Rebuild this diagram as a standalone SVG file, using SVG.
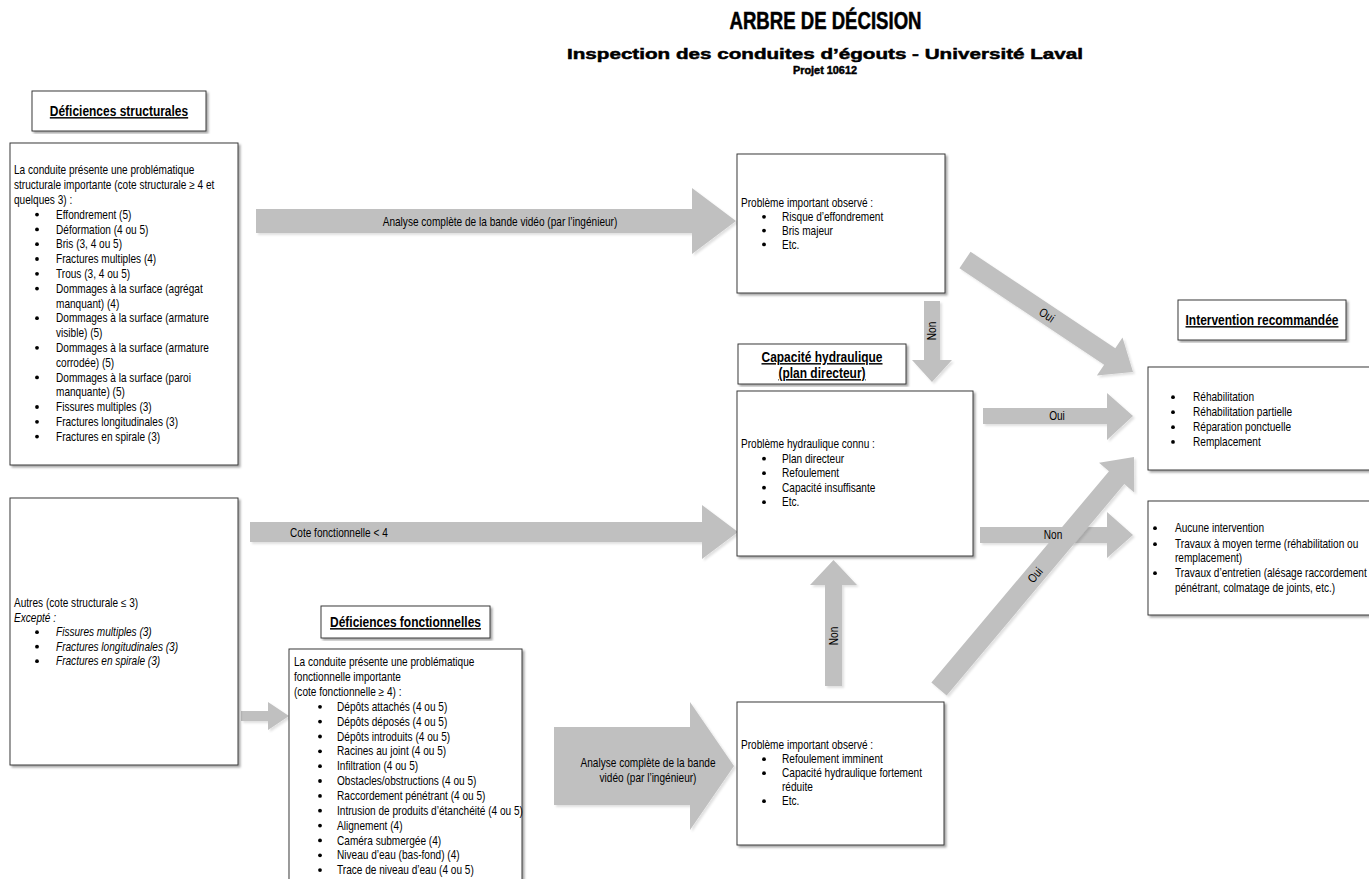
<svg xmlns="http://www.w3.org/2000/svg" width="1369" height="879" viewBox="0 0 1369 879">
<defs>
<filter id="bsh" x="-5%" y="-5%" width="112%" height="112%"><feDropShadow dx="2" dy="2" stdDeviation="0.8" flood-color="#000" flood-opacity="0.35"/></filter>
<filter id="ash" x="-5%" y="-5%" width="115%" height="115%"><feDropShadow dx="2" dy="2" stdDeviation="1" flood-color="#000" flood-opacity="0.12"/></filter>
</defs>
<style>
.t{font-family:'Liberation Sans',Arial,sans-serif;font-size:12.3px;fill:#000}
.it{font-style:italic}
.m{text-anchor:middle}
.h{font-family:'Liberation Sans',Arial,sans-serif;font-weight:bold;font-size:14.6px;text-decoration:underline;fill:#000;text-anchor:middle}
.ti{font-family:'Liberation Sans',Arial,sans-serif;font-weight:bold;fill:#000;stroke:#000;stroke-width:0.5;text-anchor:middle}
.box{fill:#fff;stroke:#3a3a3a;stroke-width:1;filter:url(#bsh)}
.arr{fill:#c0c0c0;filter:url(#ash)}
.bu{fill:#000}
</style>
<rect width="1369" height="879" fill="#fff"/>
<g id="title">
<text class="ti" x="825.5" y="29" font-size="23" textLength="192" lengthAdjust="spacingAndGlyphs">ARBRE DE DÉCISION</text>
<text class="ti" x="825" y="58.5" font-size="15.5" textLength="516" lengthAdjust="spacingAndGlyphs" stroke-width="0.3">Inspection des conduites d’égouts - Université Laval</text>
<text class="ti" x="825" y="74" font-size="11" textLength="64" lengthAdjust="spacingAndGlyphs" stroke-width="0.2">Projet 10612</text>
</g>
<g id="connectors">
<polygon class="arr" points="256,209 692,209 692,188 736,221 692,254 692,233 256,233"/>
<polygon class="arr" points="250,522 702,522 702,505 738,532 702,559 702,542 250,542"/>
<polygon class="arr" points="241,711 268,711 268,702 289,716 268,730 268,721 241,721"/>
<polygon class="arr" points="554,727 690,727 690,702 734,766 690,830 690,805 554,805"/>
<polygon class="arr" points="924,301 940,301 940,360 952,360 932,382 912,360 924,360"/>
<polygon class="arr" points="970.55,251.68 1115.25,348.18 1122.5,337.4 1133,372 1096.9,375.6 1104.15,364.82 959.45,268.32"/>
<polygon class="arr" points="983,408 1107,408 1107,393 1133,416 1107,440 1107,424 983,424"/>
<polygon class="arr" points="980,527 1107,527 1107,512 1133,535 1107,558 1107,543 980,543"/>
<polygon class="arr" points="825,686 825,585 810,585 833.5,560 857,585 842,585 842,686"/>
<polygon class="arr" points="931.35,682.57 1108.98,471.24 1099.02,462.87 1134,457 1134.24,492.47 1124.29,484.1 946.66,695.43"/>
<text class="t m" transform="matrix(.82 0 0 1 500 226.3)">Analyse complète de la bande vidéo (par l’ingénieur)</text>
<text class="t" transform="matrix(.82 0 0 1 290 537)">Cote fonctionnelle &lt; 4</text>
<text class="t m" transform="matrix(.82 0 0 1 648 767.3)">Analyse complète de la bande</text>
<text class="t m" transform="matrix(.82 0 0 1 648 782.3)">vidéo (par l’ingénieur)</text>
<text class="t m" transform="translate(932,331) rotate(-90) scale(.82,1)" y="4.3">Non</text>
<text class="t m" transform="translate(1047,315) rotate(33.8) scale(.82,1)" y="4.3">Oui</text>
<text class="t m" transform="matrix(.82 0 0 1 1057 420.3)">Oui</text>
<text class="t m" transform="matrix(.82 0 0 1 1053 539.3)">Non</text>
<text class="t m" transform="translate(834,636) rotate(-90) scale(.82,1)" y="4.3">Non</text>
<text class="t m" transform="translate(1035,575) rotate(-50) scale(.82,1)" y="4.3">Oui</text>
</g>
<g id="hdr-structurales">
<rect class="box" x="32" y="91" width="174" height="40"/>
<text class="h" transform="matrix(.82 0 0 1 119 116)">Déficiences structurales</text>
</g>
<g id="structurales">
<rect class="box" x="10" y="143" width="228" height="322"/>
<text class="t" transform="matrix(.82 0 0 1 14 174.3)">La conduite présente une problématique</text>
<text class="t" transform="matrix(.82 0 0 1 14 189.1)">structurale importante (cote structurale ≥ 4 et</text>
<text class="t" transform="matrix(.82 0 0 1 14 203.9)">quelques 3) :</text>
<text class="t" transform="matrix(.82 0 0 1 56 218.7)">Effondrement (5)</text>
<text class="t" transform="matrix(.82 0 0 1 56 233.5)">Déformation (4 ou 5)</text>
<text class="t" transform="matrix(.82 0 0 1 56 248.3)">Bris (3, 4 ou 5)</text>
<text class="t" transform="matrix(.82 0 0 1 56 263.1)">Fractures multiples (4)</text>
<text class="t" transform="matrix(.82 0 0 1 56 277.9)">Trous (3, 4 ou 5)</text>
<text class="t" transform="matrix(.82 0 0 1 56 292.7)">Dommages à la surface (agrégat</text>
<text class="t" transform="matrix(.82 0 0 1 56 307.5)">manquant) (4)</text>
<text class="t" transform="matrix(.82 0 0 1 56 322.3)">Dommages à la surface (armature</text>
<text class="t" transform="matrix(.82 0 0 1 56 337.1)">visible) (5)</text>
<text class="t" transform="matrix(.82 0 0 1 56 351.9)">Dommages à la surface (armature</text>
<text class="t" transform="matrix(.82 0 0 1 56 366.7)">corrodée) (5)</text>
<text class="t" transform="matrix(.82 0 0 1 56 381.5)">Dommages à la surface (paroi</text>
<text class="t" transform="matrix(.82 0 0 1 56 396.3)">manquante) (5)</text>
<text class="t" transform="matrix(.82 0 0 1 56 411.1)">Fissures multiples (3)</text>
<text class="t" transform="matrix(.82 0 0 1 56 425.9)">Fractures longitudinales (3)</text>
<text class="t" transform="matrix(.82 0 0 1 56 440.7)">Fractures en spirale (3)</text>
<g class="bu">
<circle cx="37" cy="214.6" r="1.9"/><circle cx="37" cy="229.4" r="1.9"/><circle cx="37" cy="244.2" r="1.9"/><circle cx="37" cy="259" r="1.9"/><circle cx="37" cy="273.8" r="1.9"/><circle cx="37" cy="288.6" r="1.9"/><circle cx="37" cy="318.2" r="1.9"/><circle cx="37" cy="347.8" r="1.9"/><circle cx="37" cy="377.4" r="1.9"/><circle cx="37" cy="407" r="1.9"/><circle cx="37" cy="421.8" r="1.9"/><circle cx="37" cy="436.6" r="1.9"/>
</g>
</g>
<g id="autres">
<rect class="box" x="10" y="498" width="228" height="267"/>
<text class="t" transform="matrix(.82 0 0 1 14 607.3)">Autres (cote structurale ≤ 3)</text>
<text class="t it" transform="matrix(.82 0 0 1 14 621.8)">Excepté :</text>
<text class="t it" transform="matrix(.82 0 0 1 56 636.3)">Fissures multiples (3)</text>
<text class="t it" transform="matrix(.82 0 0 1 56 650.8)">Fractures longitudinales (3)</text>
<text class="t it" transform="matrix(.82 0 0 1 56 665.3)">Fractures en spirale (3)</text>
<g class="bu"><circle cx="37" cy="632.2" r="1.9"/><circle cx="37" cy="646.7" r="1.9"/><circle cx="37" cy="661.2" r="1.9"/></g>
</g>
<g id="hdr-fonctionnelles">
<rect class="box" x="321" y="606" width="169" height="32"/>
<text class="h" transform="matrix(.82 0 0 1 405.5 627)">Déficiences fonctionnelles</text>
</g>
<g id="fonctionnelles">
<rect class="box" x="289" y="649" width="233" height="245"/>
<text class="t" transform="matrix(.82 0 0 1 294 666.3)">La conduite présente une problématique</text>
<text class="t" transform="matrix(.82 0 0 1 294 681.2)">fonctionnelle importante</text>
<text class="t" transform="matrix(.82 0 0 1 294 696)">(cote fonctionnelle ≥ 4) :</text>
<text class="t" transform="matrix(.82 0 0 1 337 710.9)">Dépôts attachés (4 ou 5)</text>
<text class="t" transform="matrix(.82 0 0 1 337 725.7)">Dépôts déposés (4 ou 5)</text>
<text class="t" transform="matrix(.82 0 0 1 337 740.6)">Dépôts introduits (4 ou 5)</text>
<text class="t" transform="matrix(.82 0 0 1 337 755.4)">Racines au joint (4 ou 5)</text>
<text class="t" transform="matrix(.82 0 0 1 337 770.3)">Infiltration (4 ou 5)</text>
<text class="t" transform="matrix(.82 0 0 1 337 785.1)">Obstacles/obstructions (4 ou 5)</text>
<text class="t" transform="matrix(.82 0 0 1 337 800)">Raccordement pénétrant (4 ou 5)</text>
<text class="t" transform="matrix(.82 0 0 1 337 814.8)">Intrusion de produits d’étanchéité (4 ou 5)</text>
<text class="t" transform="matrix(.82 0 0 1 337 829.7)">Alignement (4)</text>
<text class="t" transform="matrix(.82 0 0 1 337 844.5)">Caméra submergée (4)</text>
<text class="t" transform="matrix(.82 0 0 1 337 859.4)">Niveau d’eau (bas-fond) (4)</text>
<text class="t" transform="matrix(.82 0 0 1 337 874.2)">Trace de niveau d’eau (4 ou 5)</text>
<g class="bu">
<circle cx="320" cy="706.8" r="1.9"/><circle cx="320" cy="721.6" r="1.9"/><circle cx="320" cy="736.5" r="1.9"/><circle cx="320" cy="751.3" r="1.9"/><circle cx="320" cy="766.2" r="1.9"/><circle cx="320" cy="781" r="1.9"/><circle cx="320" cy="795.9" r="1.9"/><circle cx="320" cy="810.7" r="1.9"/><circle cx="320" cy="825.6" r="1.9"/><circle cx="320" cy="840.4" r="1.9"/><circle cx="320" cy="855.3" r="1.9"/><circle cx="320" cy="870.1" r="1.9"/>
</g>
</g>
<g id="observe-structural">
<rect class="box" x="737" y="154" width="208" height="139"/>
<text class="t" transform="matrix(.82 0 0 1 741 207.1)">Problème important observé :</text>
<text class="t" transform="matrix(.82 0 0 1 782 220.9)">Risque d’effondrement</text>
<text class="t" transform="matrix(.82 0 0 1 782 234.7)">Bris majeur</text>
<text class="t" transform="matrix(.82 0 0 1 782 248.5)">Etc.</text>
<g class="bu"><circle cx="764" cy="216.8" r="1.9"/><circle cx="764" cy="230.6" r="1.9"/><circle cx="764" cy="244.4" r="1.9"/></g>
</g>
<g id="hdr-capacite">
<rect class="box" x="738" y="344" width="168" height="40"/>
<text class="h" transform="matrix(.82 0 0 1 822 362)">Capacité hydraulique</text>
<text class="h" transform="matrix(.82 0 0 1 822 378)">(plan directeur)</text>
</g>
<g id="hydraulique">
<rect class="box" x="737" y="391" width="236" height="165"/>
<text class="t" transform="matrix(.82 0 0 1 741 448.3)">Problème hydraulique connu :</text>
<text class="t" transform="matrix(.82 0 0 1 782 462.8)">Plan directeur</text>
<text class="t" transform="matrix(.82 0 0 1 782 477.3)">Refoulement</text>
<text class="t" transform="matrix(.82 0 0 1 782 491.8)">Capacité insuffisante</text>
<text class="t" transform="matrix(.82 0 0 1 782 506.3)">Etc.</text>
<g class="bu"><circle cx="764" cy="458.7" r="1.9"/><circle cx="764" cy="473.2" r="1.9"/><circle cx="764" cy="487.7" r="1.9"/><circle cx="764" cy="502.2" r="1.9"/></g>
</g>
<g id="observe-fonctionnel">
<rect class="box" x="737" y="702" width="207" height="143"/>
<text class="t" transform="matrix(.82 0 0 1 741 749.3)">Problème important observé :</text>
<text class="t" transform="matrix(.82 0 0 1 782 763.3)">Refoulement imminent</text>
<text class="t" transform="matrix(.82 0 0 1 782 777.3)">Capacité hydraulique fortement</text>
<text class="t" transform="matrix(.82 0 0 1 782 791.3)">réduite</text>
<text class="t" transform="matrix(.82 0 0 1 782 805.3)">Etc.</text>
<g class="bu"><circle cx="764" cy="759.2" r="1.9"/><circle cx="764" cy="773.2" r="1.9"/><circle cx="764" cy="801.2" r="1.9"/></g>
</g>
<g id="hdr-intervention">
<rect class="box" x="1178" y="300" width="168" height="40"/>
<text class="h" transform="matrix(.82 0 0 1 1262 325)">Intervention recommandée</text>
</g>
<g id="intervention-oui">
<rect class="box" x="1148" y="367" width="230" height="103"/>
<text class="t" transform="matrix(.82 0 0 1 1193 401.3)">Réhabilitation</text>
<text class="t" transform="matrix(.82 0 0 1 1193 416.3)">Réhabilitation partielle</text>
<text class="t" transform="matrix(.82 0 0 1 1193 431.3)">Réparation ponctuelle</text>
<text class="t" transform="matrix(.82 0 0 1 1193 446)">Remplacement</text>
<g class="bu"><circle cx="1173" cy="397.2" r="1.9"/><circle cx="1173" cy="412.2" r="1.9"/><circle cx="1173" cy="427.2" r="1.9"/><circle cx="1173" cy="441.9" r="1.9"/></g>
</g>
<g id="intervention-non">
<rect class="box" x="1148" y="501" width="230" height="114"/>
<text class="t" transform="matrix(.82 0 0 1 1175 532.3)">Aucune intervention</text>
<text class="t" transform="matrix(.82 0 0 1 1175 548.3)">Travaux à moyen terme (réhabilitation ou</text>
<text class="t" transform="matrix(.82 0 0 1 1175 562.3)">remplacement)</text>
<text class="t" transform="matrix(.82 0 0 1 1175 577.3)">Travaux d’entretien (alésage raccordement</text>
<text class="t" transform="matrix(.82 0 0 1 1175 592.3)">pénétrant, colmatage de joints, etc.)</text>
<g class="bu"><circle cx="1155" cy="528.2" r="1.9"/><circle cx="1155" cy="544.2" r="1.9"/><circle cx="1155" cy="573.2" r="1.9"/></g>
</g>
</svg>
